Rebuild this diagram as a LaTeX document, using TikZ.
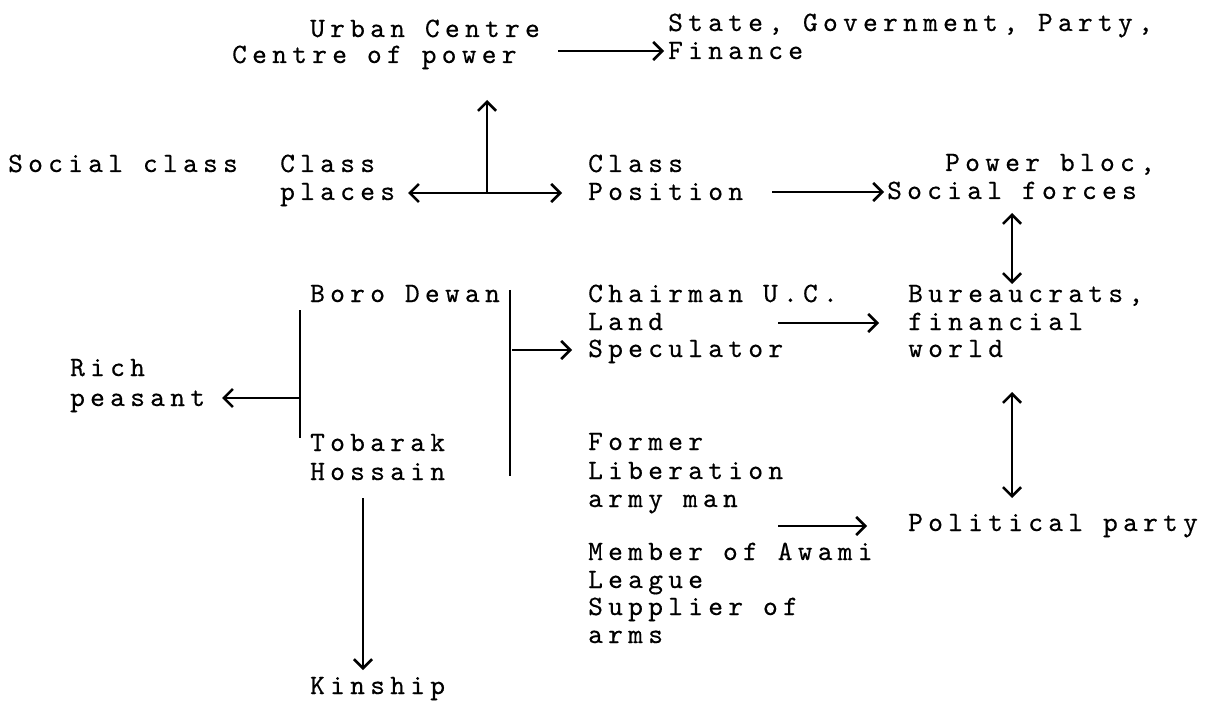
\documentclass[tikz,border=0pt]{standalone}
\usepackage{fontspec}
\newfontfamily\tw{lmmono10-regular.otf}[LetterSpace=19,FakeBold=0.45]
\usetikzlibrary{arrows.meta}
\begin{document}
\begin{tikzpicture}[x=1pt,y=-1pt,
  txt/.style={anchor=base west, inner sep=0pt, font={\tw\fontsize{28}{30}\selectfont}},
  arr/.style={line width=2.6pt, -{Straight Barb[length=9pt,width=18pt]}},
  darr/.style={line width=2.6pt, {Straight Barb[length=9pt,width=18pt]}-{Straight Barb[length=9pt,width=18pt]}},
  ln/.style={line width=2.6pt}]
\useasboundingbox (0,0) rectangle (1215,711);
% texts
\node[txt] (urban) at (310,37) {Urban Centre};
\node[txt] (cpower) at (232,63) {Centre of power};
\node[txt] (state) at (668,31) {State, Government, Party,};
\node[txt] (finance) at (668,59) {Finance};
\node[txt] (social) at (8,172) {Social class};
\node[txt] (class1) at (280,172) {Class};
\node[txt] (places) at (280,200) {places};
\node[txt] (class2) at (588,172) {Class};
\node[txt] (position) at (588,200) {Position};
\node[txt] (powerbloc) at (945,171) {Power bloc,};
\node[txt] (socforces) at (887,199) {Social forces};
\node[txt] (boro) at (310,302) {Boro Dewan};
\node[txt] (chair) at (588,302) {Chairman U.C.};
\node[txt] (land) at (588,330) {Land};
\node[txt] (spec) at (588,357) {Speculator};
\node[txt] (bur) at (908,302) {Bureaucrats,};
\node[txt] (fin) at (908,330) {financial};
\node[txt] (world) at (908,357) {world};
\node[txt] (rich) at (70,376) {Rich};
\node[txt] (peasant) at (70,406) {peasant};
\node[txt] (tob) at (310,451) {Tobarak};
\node[txt] (hos) at (310,480) {Hossain};
\node[txt] (former) at (588,450) {Former};
\node[txt] (lib) at (588,479) {Liberation};
\node[txt] (army) at (588,507) {army man};
\node[txt] (member) at (588,560) {Member of Awami};
\node[txt] (league) at (588,588) {League};
\node[txt] (supp) at (588,615) {Supplier of};
\node[txt] (arms) at (588,643) {arms};
\node[txt] (pol) at (908,531) {Political party};
\node[txt] (kin) at (310,694) {Kinship};
% connector points
\coordinate (a1s) at (558,51);   \coordinate (a1e) at (664,51);
\coordinate (j1) at (487,193);   \coordinate (up1) at (487,100);
\coordinate (pl) at (408,193);   \coordinate (pr) at (562,193);
\coordinate (a2s) at (772,192);  \coordinate (a2e) at (884,192);
\coordinate (v1t) at (1012,213); \coordinate (v1b) at (1012,284);
\coordinate (a3s) at (778,323);  \coordinate (a3e) at (879,323);
\coordinate (v2t) at (1012,392); \coordinate (v2b) at (1012,498);
\coordinate (a4s) at (778,526);  \coordinate (a4e) at (867,526);
\coordinate (l1t) at (300,310);  \coordinate (l1b) at (300,438);
\coordinate (l1m) at (300,398);  \coordinate (rp) at (222,398);
\coordinate (l2t) at (510,290);  \coordinate (l2b) at (510,476);
\coordinate (l2m) at (512,350);  \coordinate (sp) at (572,350);
\coordinate (d1t) at (363,498);  \coordinate (d1b) at (363,670);
% connectors
\draw[arr] (a1s) -- (a1e);
\draw[darr] (pl) -- (pr);
\draw[arr] (j1) -- (up1);
\draw[arr] (a2s) -- (a2e);
\draw[darr] (v1t) -- (v1b);
\draw[arr] (a3s) -- (a3e);
\draw[darr] (v2t) -- (v2b);
\draw[arr] (a4s) -- (a4e);
\draw[ln] (l1t) -- (l1b);
\draw[arr] (l1m) -- (rp);
\draw[ln] (l2t) -- (l2b);
\draw[arr] (l2m) -- (sp);
\draw[arr] (d1t) -- (d1b);
\end{tikzpicture}
\end{document}
